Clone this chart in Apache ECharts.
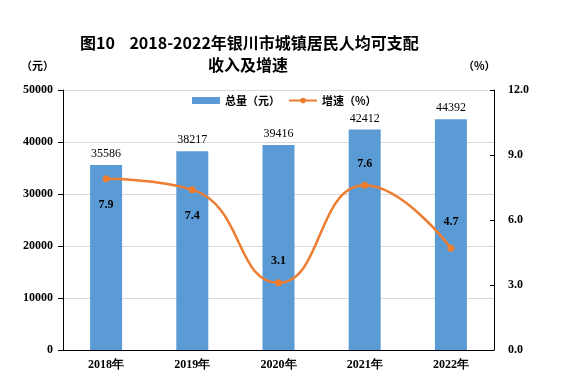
<!DOCTYPE html>
<html><head><meta charset="utf-8">
<script src="https://cdn.jsdelivr.net/npm/echarts@6/dist/echarts.min.js"></script>
<style>html,body{margin:0;padding:0;background:#fff}#c{width:566px;height:391px}</style>
</head><body><div id="c"></div>
<script>
const categories = ['2018年','2019年','2020年','2021年','2022年'];
const totals = [35586, 38217, 39416, 42412, 44392];
const growth = [7.9, 7.4, 3.1, 7.6, 4.7];
const growthLabelPos = ['bottom','bottom','top','top','top'];
const growthLabelDist = [17, 17, 12, 12, 17];

const chart = echarts.init(document.getElementById('c'), null, {renderer:'canvas'});
const serif = '"Liberation Serif","DejaVu Serif",serif';
const cjk = '"Noto Sans CJK SC",sans-serif';
chart.setOption({
  animation:false,
  backgroundColor:'#fff',
  title:[
    {text:'图10    2018-2022年银川市城镇居民人均可支配', left:75, top:30,
     textStyle:{fontFamily:cjk, fontSize:16, fontWeight:'bold', color:'#000'}},
    {text:'收入及增速', left:203, top:52,
     textStyle:{fontFamily:cjk, fontSize:16, fontWeight:'bold', color:'#000'}},
    {text:'（元）', left:16, top:55, textStyle:{fontFamily:cjk, fontSize:11, fontWeight:'bold', color:'#000'}},
    {text:'（%）', left:458, top:55, textStyle:{fontFamily:cjk, fontSize:11, fontWeight:'bold', color:'#000'}}
  ],
  legend:{
    top:90, left:187, itemGap:8, itemWidth:28, itemHeight:7,
    textStyle:{fontFamily:cjk, fontSize:11, fontWeight:'bold', color:'#000'},
    data:[{name:'总量（元）', icon:'rect'},{name:'增速（%）'}]
  },
  grid:{left:63, right:72, top:90, bottom:41},
  xAxis:{
    type:'category', data:categories,
    axisLine:{lineStyle:{color:'#000', width:1}},
    axisTick:{show:false},
    axisLabel:{fontFamily:serif, fontSize:12, fontWeight:'bold', color:'#000', margin:9}
  },
  yAxis:[
    {type:'value', min:0, max:50000, interval:10000,
     axisLine:{show:true, lineStyle:{color:'#000'}},
     axisTick:{show:true, length:5, lineStyle:{color:'#000'}},
     splitLine:{lineStyle:{color:'#d9d9d9'}},
     axisLabel:{fontFamily:serif, fontSize:12, fontWeight:'bold', color:'#000', margin:10,
       formatter:v=>String(v)}},
    {type:'value', min:0, max:12, interval:3, position:'right',
     axisLine:{show:true, lineStyle:{color:'#000'}},
     axisTick:{show:true, inside:true, length:4, lineStyle:{color:'#000'}},
     splitLine:{show:false},
     axisLabel:{fontFamily:serif, fontSize:12, fontWeight:'bold', color:'#000', margin:14,
       formatter:v=>v.toFixed(1)}}
  ],
  series:[
    {name:'总量（元）', type:'bar', data:totals, barWidth:32,
     itemStyle:{color:'#5B9BD5'},
     label:{show:true, position:'top', distance:5, fontFamily:serif, fontSize:12, color:'#000'}},
    {name:'增速（%）', type:'line', yAxisIndex:1, smooth:0.5,
     data:growth.map((v,i)=>({value:v, label:{position:growthLabelPos[i], distance:growthLabelDist[i]}})),
     symbol:'circle', symbolSize:7,
     lineStyle:{color:'#ED7D31', width:2.5}, itemStyle:{color:'#ED7D31'},
     label:{show:true, fontFamily:serif, fontSize:12, fontWeight:'bold', color:'#000',
       formatter:p=>p.value.toFixed(1)}}
  ]
});
</script></body></html>
